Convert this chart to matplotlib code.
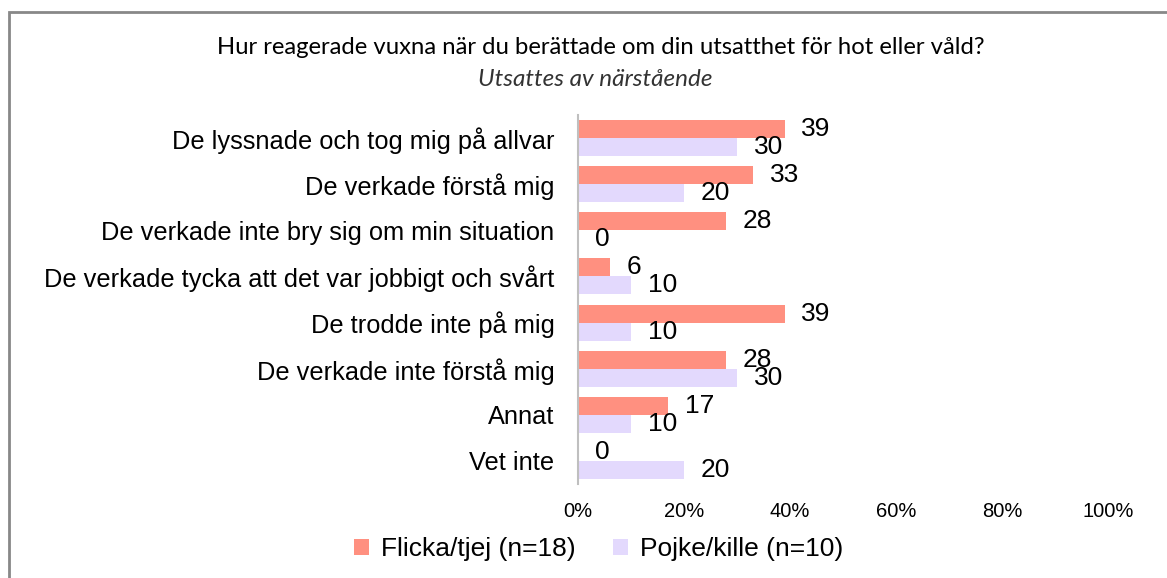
import numpy as np
import matplotlib as mpl
import matplotlib.pyplot as plt
from matplotlib.patches import Rectangle

mpl.rc('font', family='Liberation Sans')

kategorier = ['De lyssnade och tog mig på allvar', 'De verkade förstå mig',
              'De verkade inte bry sig om min situation',
              'De verkade tycka att det var jobbigt och svårt',
              'De trodde inte på mig', 'De verkade inte förstå mig', 'Annat', 'Vet inte']
flicka = [39, 33, 28, 6, 39, 28, 17, 0]
pojke = [30, 20, 0, 10, 10, 30, 10, 20]
serier = ['Flicka/tjej (n=18)', 'Pojke/kille (n=10)']
xticks = [0, 20, 40, 60, 80, 100]

fig = plt.figure(figsize=(11.67, 5.78), dpi=100)
ax = fig.add_axes([0.4953, 0.1626, 0.4541, 0.6384])

y = np.arange(len(kategorier))
h = 0.39
r1 = ax.barh(y - h / 2, flicka, h, color='#FF9080', label=serier[0])
r2 = ax.barh(y + h / 2, pojke, h, color='#E3D9FD', label=serier[1])

ax.bar_label(r1, padding=12, fontsize=19)
ax.bar_label(r2, padding=12, fontsize=19)

ax.set_xlim(0, 100)
ax.set_ylim(7.5, -0.5)
ax.set_yticks(y, kategorier, fontsize=18.3)
ax.set_xticks(xticks, [f'{v}%' for v in xticks], fontsize=14.5)
ax.tick_params(length=0)
ax.tick_params(axis='x', pad=13)
ax.tick_params(axis='y', pad=17)
for s in ['top', 'right', 'bottom']:
    ax.spines[s].set_visible(False)
ax.spines['left'].set_color('#BFBFBF')
ax.spines['left'].set_linewidth(1.5)

fig.text(0.515, 1 - 47 / 578, 'Hur reagerade vuxna när du berättade om din utsatthet för hot eller våld?',
         ha='center', va='center', fontsize=17.2, family='Lato', color='black')
fig.text(0.51, 1 - 79 / 578, 'Utsattes av närstående', ha='center', va='center',
         fontsize=17.5, family='Lato', style='italic', color='#333333')

fig.legend(loc='center', bbox_to_anchor=(0.513, 1 - 549 / 578), ncol=2, frameon=False,
           fontsize=19, handlelength=0.55, handleheight=0.55, handletextpad=0.45,
           columnspacing=1.45)

# ram runt diagrammet
fig.patches.append(Rectangle((8.5 / 1167, -0.1), 1.2, 1 - 11.5 / 578 + 0.1,
                             transform=fig.transFigure, fill=False,
                             edgecolor='#888888', linewidth=2))

plt.savefig('out.png')
